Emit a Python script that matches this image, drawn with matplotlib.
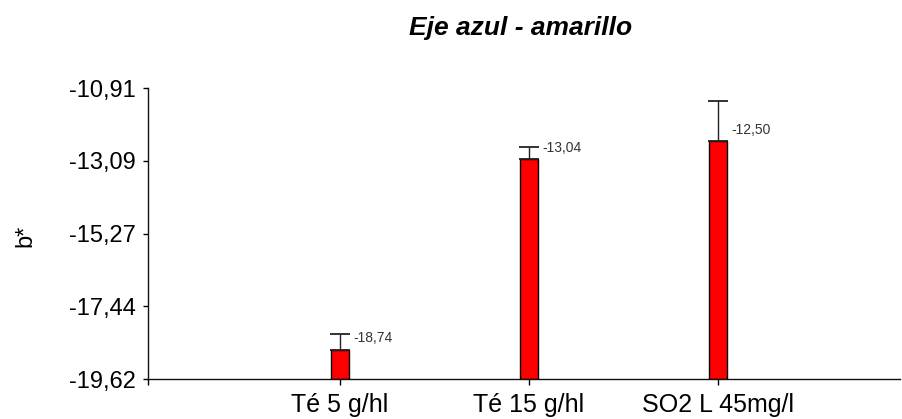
import matplotlib
matplotlib.use("Agg")
import matplotlib.pyplot as plt
import numpy as np

categories = ["Té 5 g/hl", "Té 15 g/hl", "SO2 L 45mg/l"]
means = [-18.74, -13.04, -12.50]
err_up = [0.47, 0.36, 1.20]
yticks = [-19.62, -17.44, -15.27, -13.09, -10.91]
ytick_labels = ["-19,62", "-17,44", "-15,27", "-13,09", "-10,91"]
value_labels = ["-18,74", "-13,04", "-12,50"]

FONT = "Liberation Sans"
plt.rcParams["font.family"] = [FONT, "DejaVu Sans"]

fig = plt.figure(figsize=(9.02, 4.19), dpi=100)
ax = fig.add_axes([148 / 902, 1 - 379 / 419, (900 - 148) / 902, (379 - 88) / 419])

ymin, ymax = yticks[0], yticks[-1]
x = np.arange(1, len(categories) + 1)
heights = np.array(means) - ymin
ax.bar(x, heights, 0.1, bottom=ymin, color="#ff0000",
       edgecolor="black", linewidth=1.0, zorder=2)
ax.errorbar(x, means, yerr=[np.zeros(len(means)), err_up], fmt="none",
            ecolor="#222222", elinewidth=1.0, capsize=7.2, capthick=1.3, zorder=3)

for xi, m, lab in zip(x, means, value_labels):
    ax.annotate(lab, (xi, m), xytext=(9.5, 8), textcoords="offset points",
                ha="left", va="center", fontsize=10, color="#333333")

ax.set_xlim(-0.016, 3.963)
ax.set_ylim(ymin, ymax)
ax.set_yticks(yticks)
ax.set_yticklabels(ytick_labels)
ax.set_xticks(x)
ax.set_xticklabels(categories)
ax.set_xticks([-0.016], minor=True)

for side in ("top", "right"):
    ax.spines[side].set_visible(False)
for side in ("left", "bottom"):
    ax.spines[side].set_linewidth(1.0)
    ax.spines[side].set_color("#111111")
ax.spines["left"].set_position(("data", -0.016))

ax.tick_params(axis="y", length=3.5, width=1, pad=5, labelsize=17)
ax.tick_params(axis="x", length=4, width=1, pad=6, labelsize=18)
ax.tick_params(axis="x", which="minor", length=4, width=1)

fig.text(25 / 902, 1 - 236 / 419, "b*", rotation=90, ha="center", va="center",
         fontsize=17)
fig.text(521 / 902, 1 - 28 / 419, "Eje azul - amarillo", ha="center", va="center",
         fontsize=19, fontweight="bold", fontstyle="italic")

fig.savefig("out.png", dpi=100, facecolor="white")
